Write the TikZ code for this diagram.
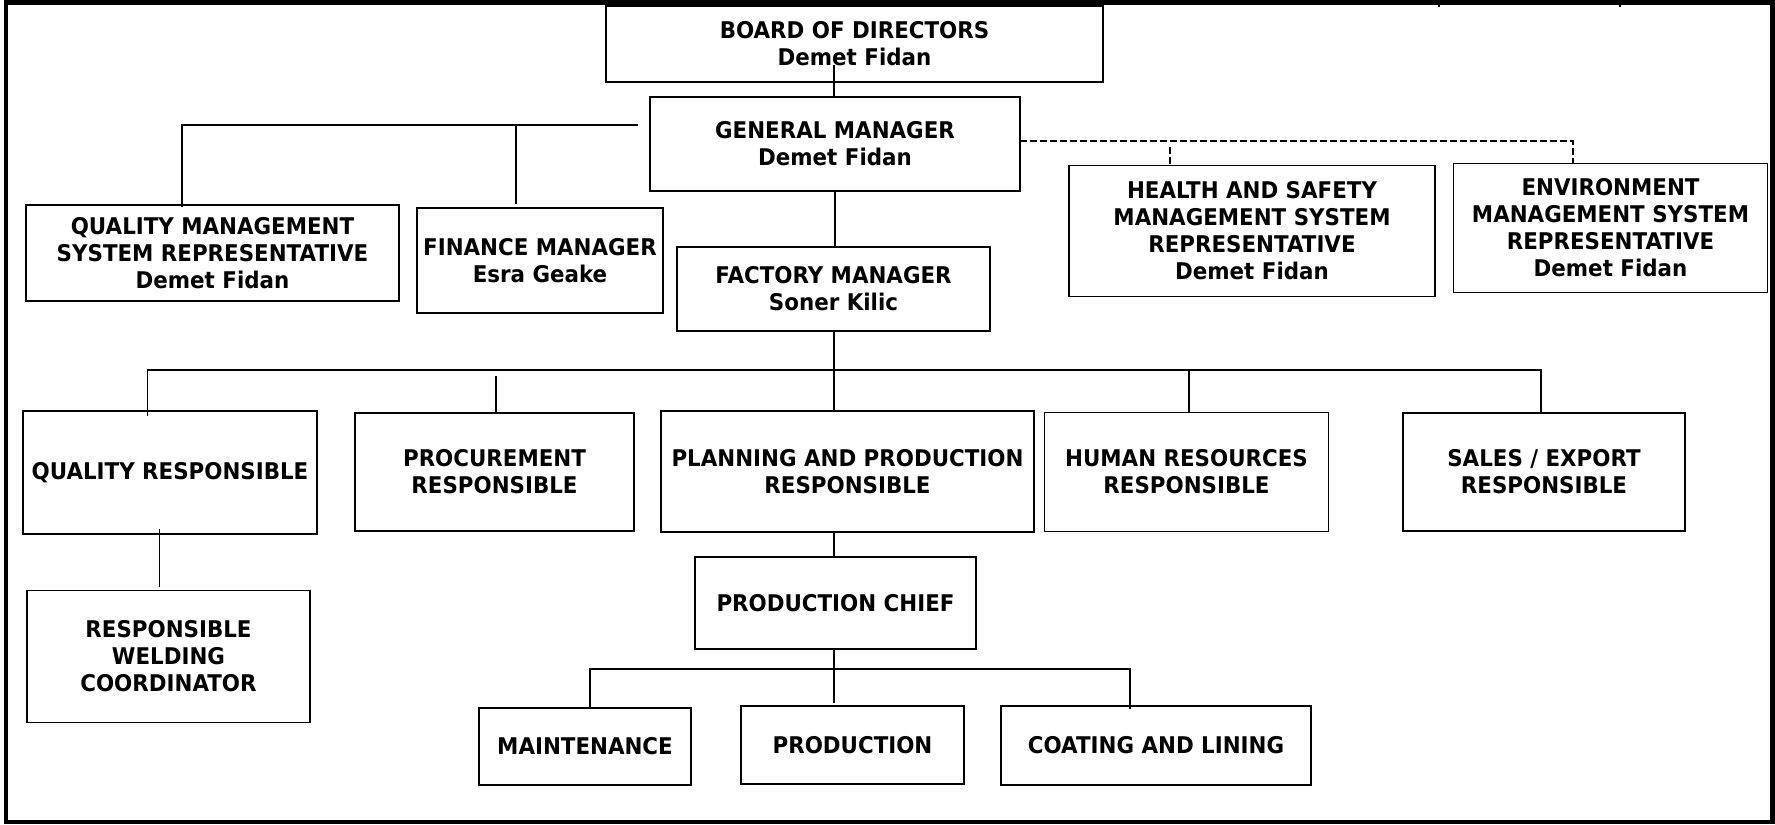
\documentclass[tikz,border=0pt]{standalone}
\usepackage{fontspec}
\setmainfont{DejaVu Sans}[FakeStretch=0.93]

\tikzstyle{unit}=[rectangle,draw,line width=0.9pt,align=center,inner sep=0pt,font=\bfseries\fontsize{11.5}{13.5}\selectfont]
\tikzstyle{link}=[draw,line width=0.7pt,-]
\tikzstyle{dashlink}=[draw,line width=0.7pt,dash pattern=on 3.3pt off 1.7pt]
\tikzset{wh/.style 2 args={minimum width=#1*0.5pt,minimum height=#2*0.5pt}}

\begin{document}
\begin{tikzpicture}[x=0.5pt,y=-0.5pt]
			\useasboundingbox (0,0) rectangle (1775,824);
			\draw [line width=2.4pt] (6,2.3) rectangle (1772.5,822);
			\draw [line width=0.7pt] (1439,0) -- (1439,7);
			\draw [line width=0.7pt] (1620,0) -- (1620,7);

			\node [unit, wh={497}{76}]  (board)    at (854.5,44)   {BOARD OF DIRECTORS\\Demet Fidan};
			\node [unit, wh={370}{94}]  (gm)       at (835,144)    {GENERAL MANAGER\\Demet Fidan};
			\node [unit, wh={373}{96}]  (qms)      at (212.5,253)  {QUALITY MANAGEMENT\\SYSTEM REPRESENTATIVE\\Demet Fidan};
			\node [unit, wh={246}{105}] (finance)  at (540,260.5)  {FINANCE MANAGER\\Esra Geake};
			\node [unit, wh={313}{84}]  (factory)  at (833.5,289)  {FACTORY MANAGER\\Soner Kilic};
			\node [unit, wh={366}{131}] (hs)       at (1252,231)   {HEALTH AND SAFETY\\MANAGEMENT SYSTEM\\REPRESENTATIVE\\Demet Fidan};
			\node [unit, wh={314}{129}] (env)      at (1610.5,228) {ENVIRONMENT\\MANAGEMENT SYSTEM\\REPRESENTATIVE\\Demet Fidan};
			\node [unit, wh={294}{123}] (quality)  at (170,472.5)  {QUALITY RESPONSIBLE};
			\node [unit, wh={279}{118}] (procure)  at (494.5,472)  {PROCUREMENT\\RESPONSIBLE};
			\node [unit, wh={373}{121}] (planning) at (847.5,471.5) {PLANNING AND PRODUCTION\\RESPONSIBLE};
			\node [unit, wh={284}{119}] (hr)       at (1186.5,472) {HUMAN RESOURCES\\RESPONSIBLE};
			\node [unit, wh={282}{118}] (sales)    at (1544,472)   {SALES / EXPORT\\RESPONSIBLE};
			\node [unit, wh={281}{92}]  (chief)    at (835.5,603)  {PRODUCTION CHIEF};
			\node [unit, wh={283}{132}] (welding)  at (168.5,656.5) {RESPONSIBLE\\WELDING\\COORDINATOR};
			\node [unit, wh={212}{77}]  (maint)    at (585,746.5)  {MAINTENANCE};
			\node [unit, wh={223}{78}]  (prod)     at (852.5,745)  {PRODUCTION};
			\node [unit, wh={310}{79}]  (coating)  at (1156,745.5) {COATING AND LINING};

			\coordinate (boardin)  at (834,65);
			\coordinate (gmbus)    at (638,125);
			\coordinate (qmsup)    at (182,207);
			\coordinate (finup)    at (516,204);
			\coordinate (gmside)   at (1020,141);
			\coordinate (hsup)     at (1170,147);
			\coordinate (envup)    at (1573,164);
			\coordinate (facbus)   at (834,370);
			\coordinate (qrup)     at (147.5,416);
			\coordinate (procup)   at (496,376);
			\coordinate (hrup)     at (1189,413);
			\coordinate (salesup)  at (1541,413);
			\coordinate (qrdown)   at (159.5,529);
			\coordinate (weldup)   at (159.5,587);
			\coordinate (chiefbus) at (834,669);
			\coordinate (maintup)  at (590,708);
			\coordinate (produp)   at (834,703);
			\coordinate (coatup)   at (1130,709);

			\draw [link] (boardin) -- (boardin |- gm.north);
			\draw [link] (gmbus) -| (qmsup);
			\draw [link] (finup) -- (finup |- gmbus);
			\draw [link] (gm.south) -- (gm.south |- factory.north);
			\draw [dashlink] (gmside) -| (envup);
			\draw [dashlink] (hsup) -- (hsup |- hs.north);
			\draw [link] (factory.south -| facbus) -- (facbus);
			\draw [link] (qrup) |- (facbus) -| (salesup);
			\draw [link] (procup) -- (procup |- procure.north);
			\draw [link] (facbus) -- (facbus |- planning.north);
			\draw [link] (facbus -| hrup) -- (hrup);
			\draw [link] (qrdown) -- (weldup);
			\draw [link] (facbus |- planning.south) -- (facbus |- chief.north);
			\draw [link] (facbus |- chief.south) -- (produp);
			\draw [link] (maintup) |- (chiefbus) -| (coatup);
	\end{tikzpicture}
\end{document}
